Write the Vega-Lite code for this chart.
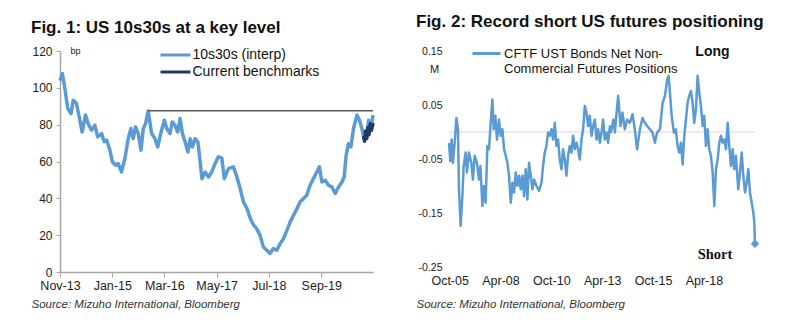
{
  "$schema": "https://vega.github.io/schema/vega-lite/v6.json",
  "padding": {"left": 31, "top": 13, "right": 0, "bottom": 0},
  "background": "white",
  "bounds": "flush",
  "spacing": 76,
  "resolve": {"scale": {"color": "independent"}, "legend": {"color": "independent"}},
  "config": {
    "font": "Liberation Sans",
    "view": {"stroke": null},
    "axis": {"grid": false, "labelOverlap": false, "labelColor": "#222222", "titleColor": "#222222", "labelFont": "Liberation Sans", "titleFont": "Liberation Sans"},
    "legend": {"labelFont": "Liberation Sans"},
    "title": {"font": "Liberation Sans"}
  },
  "datasets": {
    "spread": [
      {"date": "2013-11-01", "bp": 104, "series": "10s30s (interp)"},
      {"date": "2013-11-20", "bp": 107.8, "series": "10s30s (interp)"},
      {"date": "2013-12-11", "bp": 99.6, "series": "10s30s (interp)"},
      {"date": "2014-01-03", "bp": 88.8, "series": "10s30s (interp)"},
      {"date": "2014-01-30", "bp": 86, "series": "10s30s (interp)"},
      {"date": "2014-02-17", "bp": 93.3, "series": "10s30s (interp)"},
      {"date": "2014-03-15", "bp": 91.5, "series": "10s30s (interp)"},
      {"date": "2014-04-12", "bp": 82.4, "series": "10s30s (interp)"},
      {"date": "2014-04-30", "bp": 76, "series": "10s30s (interp)"},
      {"date": "2014-05-28", "bp": 85.2, "series": "10s30s (interp)"},
      {"date": "2014-06-18", "bp": 80.6, "series": "10s30s (interp)"},
      {"date": "2014-07-16", "bp": 77, "series": "10s30s (interp)"},
      {"date": "2014-08-12", "bp": 79.7, "series": "10s30s (interp)"},
      {"date": "2014-09-04", "bp": 73.4, "series": "10s30s (interp)"},
      {"date": "2014-10-06", "bp": 75.2, "series": "10s30s (interp)"},
      {"date": "2014-10-28", "bp": 70.7, "series": "10s30s (interp)"},
      {"date": "2014-11-17", "bp": 71.6, "series": "10s30s (interp)"},
      {"date": "2014-12-13", "bp": 66.1, "series": "10s30s (interp)"},
      {"date": "2015-01-02", "bp": 59.8, "series": "10s30s (interp)"},
      {"date": "2015-01-30", "bp": 58, "series": "10s30s (interp)"},
      {"date": "2015-02-19", "bp": 58.9, "series": "10s30s (interp)"},
      {"date": "2015-03-17", "bp": 54.3, "series": "10s30s (interp)"},
      {"date": "2015-04-14", "bp": 61.6, "series": "10s30s (interp)"},
      {"date": "2015-05-11", "bp": 72.4, "series": "10s30s (interp)"},
      {"date": "2015-06-02", "bp": 77.9, "series": "10s30s (interp)"},
      {"date": "2015-06-21", "bp": 72.4, "series": "10s30s (interp)"},
      {"date": "2015-07-10", "bp": 78.8, "series": "10s30s (interp)"},
      {"date": "2015-08-01", "bp": 75.2, "series": "10s30s (interp)"},
      {"date": "2015-08-23", "bp": 66.1, "series": "10s30s (interp)"},
      {"date": "2015-09-11", "bp": 77.9, "series": "10s30s (interp)"},
      {"date": "2015-09-30", "bp": 80.6, "series": "10s30s (interp)"},
      {"date": "2015-10-21", "bp": 87.5, "series": "10s30s (interp)"},
      {"date": "2015-11-18", "bp": 75.2, "series": "10s30s (interp)"},
      {"date": "2015-12-15", "bp": 72.4, "series": "10s30s (interp)"},
      {"date": "2016-01-07", "bp": 67.9, "series": "10s30s (interp)"},
      {"date": "2016-02-03", "bp": 76, "series": "10s30s (interp)"},
      {"date": "2016-03-01", "bp": 82.4, "series": "10s30s (interp)"},
      {"date": "2016-03-20", "bp": 77.9, "series": "10s30s (interp)"},
      {"date": "2016-04-16", "bp": 75.2, "series": "10s30s (interp)"},
      {"date": "2016-05-04", "bp": 81.5, "series": "10s30s (interp)"},
      {"date": "2016-05-26", "bp": 79.7, "series": "10s30s (interp)"},
      {"date": "2016-06-18", "bp": 76, "series": "10s30s (interp)"},
      {"date": "2016-07-07", "bp": 83.3, "series": "10s30s (interp)"},
      {"date": "2016-07-26", "bp": 75.2, "series": "10s30s (interp)"},
      {"date": "2016-08-17", "bp": 70.7, "series": "10s30s (interp)"},
      {"date": "2016-09-09", "bp": 65.2, "series": "10s30s (interp)"},
      {"date": "2016-09-27", "bp": 72.4, "series": "10s30s (interp)"},
      {"date": "2016-10-16", "bp": 67.9, "series": "10s30s (interp)"},
      {"date": "2016-11-07", "bp": 72.4, "series": "10s30s (interp)"},
      {"date": "2016-11-29", "bp": 70.7, "series": "10s30s (interp)"},
      {"date": "2016-12-18", "bp": 59.8, "series": "10s30s (interp)"},
      {"date": "2017-01-01", "bp": 50.7, "series": "10s30s (interp)"},
      {"date": "2017-01-28", "bp": 54.3, "series": "10s30s (interp)"},
      {"date": "2017-02-24", "bp": 51.6, "series": "10s30s (interp)"},
      {"date": "2017-03-22", "bp": 54.3, "series": "10s30s (interp)"},
      {"date": "2017-04-18", "bp": 58.9, "series": "10s30s (interp)"},
      {"date": "2017-05-15", "bp": 62.5, "series": "10s30s (interp)"},
      {"date": "2017-06-12", "bp": 62, "series": "10s30s (interp)"},
      {"date": "2017-07-03", "bp": 50.7, "series": "10s30s (interp)"},
      {"date": "2017-08-05", "bp": 56.1, "series": "10s30s (interp)"},
      {"date": "2017-09-15", "bp": 57.1, "series": "10s30s (interp)"},
      {"date": "2017-10-13", "bp": 51.6, "series": "10s30s (interp)"},
      {"date": "2017-11-09", "bp": 45.3, "series": "10s30s (interp)"},
      {"date": "2017-12-06", "bp": 38, "series": "10s30s (interp)"},
      {"date": "2018-01-04", "bp": 34.4, "series": "10s30s (interp)"},
      {"date": "2018-01-31", "bp": 29, "series": "10s30s (interp)"},
      {"date": "2018-02-27", "bp": 25.4, "series": "10s30s (interp)"},
      {"date": "2018-03-24", "bp": 23.5, "series": "10s30s (interp)"},
      {"date": "2018-04-20", "bp": 19.9, "series": "10s30s (interp)"},
      {"date": "2018-05-17", "bp": 13.6, "series": "10s30s (interp)"},
      {"date": "2018-06-14", "bp": 11.8, "series": "10s30s (interp)"},
      {"date": "2018-07-10", "bp": 10, "series": "10s30s (interp)"},
      {"date": "2018-08-07", "bp": 12.7, "series": "10s30s (interp)"},
      {"date": "2018-09-04", "bp": 11.8, "series": "10s30s (interp)"},
      {"date": "2018-10-01", "bp": 15.4, "series": "10s30s (interp)"},
      {"date": "2018-10-28", "bp": 18.1, "series": "10s30s (interp)"},
      {"date": "2018-11-25", "bp": 22.6, "series": "10s30s (interp)"},
      {"date": "2018-12-22", "bp": 27.2, "series": "10s30s (interp)"},
      {"date": "2019-01-18", "bp": 30.8, "series": "10s30s (interp)"},
      {"date": "2019-02-15", "bp": 34.4, "series": "10s30s (interp)"},
      {"date": "2019-03-12", "bp": 38, "series": "10s30s (interp)"},
      {"date": "2019-04-08", "bp": 39.8, "series": "10s30s (interp)"},
      {"date": "2019-05-06", "bp": 41.7, "series": "10s30s (interp)"},
      {"date": "2019-06-02", "bp": 47.1, "series": "10s30s (interp)"},
      {"date": "2019-06-29", "bp": 50.7, "series": "10s30s (interp)"},
      {"date": "2019-07-27", "bp": 54.3, "series": "10s30s (interp)"},
      {"date": "2019-08-17", "bp": 57.1, "series": "10s30s (interp)"},
      {"date": "2019-09-06", "bp": 48.9, "series": "10s30s (interp)"},
      {"date": "2019-10-03", "bp": 49.8, "series": "10s30s (interp)"},
      {"date": "2019-10-30", "bp": 47.1, "series": "10s30s (interp)"},
      {"date": "2019-11-27", "bp": 46.2, "series": "10s30s (interp)"},
      {"date": "2019-12-24", "bp": 42.6, "series": "10s30s (interp)"},
      {"date": "2020-01-20", "bp": 46.2, "series": "10s30s (interp)"},
      {"date": "2020-02-17", "bp": 48.9, "series": "10s30s (interp)"},
      {"date": "2020-03-06", "bp": 51.6, "series": "10s30s (interp)"},
      {"date": "2020-03-22", "bp": 63.4, "series": "10s30s (interp)"},
      {"date": "2020-04-10", "bp": 69.7, "series": "10s30s (interp)"},
      {"date": "2020-04-30", "bp": 67.9, "series": "10s30s (interp)"},
      {"date": "2020-05-21", "bp": 77.9, "series": "10s30s (interp)"},
      {"date": "2020-06-18", "bp": 85.2, "series": "10s30s (interp)"},
      {"date": "2020-07-09", "bp": 82.4, "series": "10s30s (interp)"},
      {"date": "2020-07-28", "bp": 77.9, "series": "10s30s (interp)"},
      {"date": "2020-08-17", "bp": 72.4, "series": "10s30s (interp)"},
      {"date": "2020-09-08", "bp": 75.2, "series": "10s30s (interp)"},
      {"date": "2020-09-21", "bp": 82.4, "series": "10s30s (interp)"},
      {"date": "2020-10-11", "bp": 78.8, "series": "10s30s (interp)"},
      {"date": "2020-10-27", "bp": 85.2, "series": "10s30s (interp)"},
      {"date": "2020-08-10", "bp": 74, "series": "Current benchmarks"},
      {"date": "2020-08-19", "bp": 71, "series": "Current benchmarks"},
      {"date": "2020-08-28", "bp": 76.5, "series": "Current benchmarks"},
      {"date": "2020-09-06", "bp": 72.5, "series": "Current benchmarks"},
      {"date": "2020-09-15", "bp": 78.5, "series": "Current benchmarks"},
      {"date": "2020-09-24", "bp": 74.5, "series": "Current benchmarks"},
      {"date": "2020-10-05", "bp": 80.5, "series": "Current benchmarks"},
      {"date": "2020-10-15", "bp": 77, "series": "Current benchmarks"},
      {"date": "2020-10-27", "bp": 81, "series": "Current benchmarks"}
    ],
    "level": [
      {"start": "2015-10-21", "end": "2020-10-27", "bp": 87.5}
    ],
    "cftc": [
      {"date": "2005-09-19", "pos": -0.020},
      {"date": "2005-10-13", "pos": -0.054},
      {"date": "2005-11-06", "pos": -0.014},
      {"date": "2005-11-29", "pos": -0.057},
      {"date": "2005-12-30", "pos": -0.020},
      {"date": "2006-01-30", "pos": 0.026},
      {"date": "2006-02-27", "pos": 0.005},
      {"date": "2006-03-17", "pos": -0.106},
      {"date": "2006-04-16", "pos": -0.174},
      {"date": "2006-05-17", "pos": -0.119},
      {"date": "2006-06-09", "pos": -0.063},
      {"date": "2006-07-15", "pos": -0.038},
      {"date": "2006-08-07", "pos": -0.075},
      {"date": "2006-09-12", "pos": -0.038},
      {"date": "2006-10-25", "pos": -0.057},
      {"date": "2006-11-23", "pos": -0.088},
      {"date": "2006-12-23", "pos": -0.044},
      {"date": "2007-02-03", "pos": -0.057},
      {"date": "2007-03-11", "pos": -0.088},
      {"date": "2007-04-06", "pos": -0.063},
      {"date": "2007-05-11", "pos": -0.137},
      {"date": "2007-06-09", "pos": -0.100},
      {"date": "2007-07-09", "pos": -0.131},
      {"date": "2007-08-09", "pos": -0.026},
      {"date": "2007-09-07", "pos": -0.032},
      {"date": "2007-10-07", "pos": 0.017},
      {"date": "2007-11-07", "pos": 0.060},
      {"date": "2007-11-30", "pos": 0.005},
      {"date": "2007-12-31", "pos": 0.030},
      {"date": "2008-01-29", "pos": -0.014},
      {"date": "2008-03-05", "pos": 0.023},
      {"date": "2008-04-04", "pos": -0.007},
      {"date": "2008-05-05", "pos": 0.005},
      {"date": "2008-06-03", "pos": -0.032},
      {"date": "2008-07-03", "pos": -0.044},
      {"date": "2008-08-03", "pos": -0.057},
      {"date": "2008-09-01", "pos": -0.081},
      {"date": "2008-10-02", "pos": -0.131},
      {"date": "2008-11-01", "pos": -0.094},
      {"date": "2008-11-30", "pos": -0.112},
      {"date": "2008-12-30", "pos": -0.075},
      {"date": "2009-01-30", "pos": -0.100},
      {"date": "2009-02-28", "pos": -0.081},
      {"date": "2009-03-30", "pos": -0.106},
      {"date": "2009-04-29", "pos": -0.081},
      {"date": "2009-05-28", "pos": -0.119},
      {"date": "2009-06-28", "pos": -0.069},
      {"date": "2009-07-28", "pos": -0.125},
      {"date": "2009-08-26", "pos": -0.057},
      {"date": "2009-09-26", "pos": -0.081},
      {"date": "2009-10-26", "pos": -0.106},
      {"date": "2009-11-24", "pos": -0.088},
      {"date": "2010-01-07", "pos": -0.100},
      {"date": "2010-02-22", "pos": -0.109},
      {"date": "2010-04-06", "pos": -0.094},
      {"date": "2010-05-05", "pos": -0.063},
      {"date": "2010-06-04", "pos": -0.038},
      {"date": "2010-07-04", "pos": -0.026},
      {"date": "2010-08-03", "pos": -0.001},
      {"date": "2010-09-02", "pos": -0.007},
      {"date": "2010-10-03", "pos": 0.005},
      {"date": "2010-11-01", "pos": -0.014},
      {"date": "2010-12-01", "pos": 0.017},
      {"date": "2011-01-01", "pos": -0.026},
      {"date": "2011-01-30", "pos": -0.014},
      {"date": "2011-03-01", "pos": -0.051},
      {"date": "2011-04-01", "pos": -0.069},
      {"date": "2011-04-29", "pos": -0.032},
      {"date": "2011-05-30", "pos": -0.051},
      {"date": "2011-06-29", "pos": -0.081},
      {"date": "2011-07-28", "pos": -0.044},
      {"date": "2011-08-27", "pos": -0.026},
      {"date": "2011-09-27", "pos": -0.038},
      {"date": "2011-10-26", "pos": -0.007},
      {"date": "2011-11-25", "pos": -0.032},
      {"date": "2011-12-26", "pos": -0.020},
      {"date": "2012-01-24", "pos": -0.032},
      {"date": "2012-02-23", "pos": -0.051},
      {"date": "2012-03-25", "pos": -0.014},
      {"date": "2012-04-23", "pos": 0.005},
      {"date": "2012-05-23", "pos": 0.048},
      {"date": "2012-06-23", "pos": 0.036},
      {"date": "2012-07-22", "pos": 0.011},
      {"date": "2012-08-21", "pos": 0.030},
      {"date": "2012-09-21", "pos": -0.007},
      {"date": "2012-10-20", "pos": 0.011},
      {"date": "2012-11-19", "pos": 0.023},
      {"date": "2012-12-20", "pos": -0.014},
      {"date": "2013-01-18", "pos": 0.005},
      {"date": "2013-02-17", "pos": -0.020},
      {"date": "2013-03-19", "pos": -0.001},
      {"date": "2013-04-17", "pos": 0.023},
      {"date": "2013-05-18", "pos": -0.014},
      {"date": "2013-06-18", "pos": -0.001},
      {"date": "2013-07-16", "pos": -0.020},
      {"date": "2013-08-16", "pos": 0.010},
      {"date": "2013-09-05", "pos": 0.000},
      {"date": "2013-10-19", "pos": 0.023},
      {"date": "2013-11-13", "pos": -0.001},
      {"date": "2014-01-12", "pos": 0.067},
      {"date": "2014-02-24", "pos": 0.011},
      {"date": "2014-03-31", "pos": 0.036},
      {"date": "2014-05-12", "pos": 0.005},
      {"date": "2014-06-22", "pos": 0.023},
      {"date": "2014-08-10", "pos": 0.017},
      {"date": "2014-09-27", "pos": 0.033},
      {"date": "2014-11-07", "pos": 0.005},
      {"date": "2014-12-18", "pos": -0.032},
      {"date": "2015-02-06", "pos": 0.005},
      {"date": "2015-03-26", "pos": 0.026},
      {"date": "2015-05-06", "pos": 0.017},
      {"date": "2015-06-17", "pos": 0.011},
      {"date": "2015-08-05", "pos": 0.005},
      {"date": "2015-09-22", "pos": -0.001},
      {"date": "2015-11-02", "pos": -0.020},
      {"date": "2015-12-13", "pos": -0.001},
      {"date": "2016-01-31", "pos": 0.005},
      {"date": "2016-03-20", "pos": 0.054},
      {"date": "2016-05-01", "pos": 0.067},
      {"date": "2016-06-11", "pos": 0.097},
      {"date": "2016-07-06", "pos": 0.104},
      {"date": "2016-07-30", "pos": 0.073},
      {"date": "2016-08-29", "pos": 0.030},
      {"date": "2016-10-09", "pos": -0.001},
      {"date": "2016-11-14", "pos": 0.005},
      {"date": "2016-12-14", "pos": -0.026},
      {"date": "2017-01-13", "pos": -0.038},
      {"date": "2017-02-12", "pos": -0.020},
      {"date": "2017-03-15", "pos": -0.060},
      {"date": "2017-04-13", "pos": -0.007},
      {"date": "2017-05-13", "pos": 0.023},
      {"date": "2017-06-12", "pos": 0.054},
      {"date": "2017-07-11", "pos": 0.067},
      {"date": "2017-08-11", "pos": 0.076},
      {"date": "2017-09-10", "pos": 0.054},
      {"date": "2017-10-09", "pos": 0.017},
      {"date": "2017-11-08", "pos": 0.042},
      {"date": "2017-12-09", "pos": 0.104},
      {"date": "2018-01-07", "pos": 0.073},
      {"date": "2018-02-07", "pos": 0.048},
      {"date": "2018-03-09", "pos": 0.011},
      {"date": "2018-04-07", "pos": 0.030},
      {"date": "2018-05-07", "pos": -0.026},
      {"date": "2018-06-07", "pos": 0.005},
      {"date": "2018-07-06", "pos": -0.032},
      {"date": "2018-08-05", "pos": -0.044},
      {"date": "2018-09-05", "pos": -0.075},
      {"date": "2018-10-04", "pos": -0.137},
      {"date": "2018-11-03", "pos": -0.069},
      {"date": "2018-12-03", "pos": -0.051},
      {"date": "2019-01-02", "pos": -0.020},
      {"date": "2019-02-01", "pos": -0.007},
      {"date": "2019-03-04", "pos": -0.020},
      {"date": "2019-04-02", "pos": -0.014},
      {"date": "2019-05-02", "pos": -0.032},
      {"date": "2019-06-02", "pos": 0.017},
      {"date": "2019-06-30", "pos": -0.026},
      {"date": "2019-07-31", "pos": -0.063},
      {"date": "2019-08-30", "pos": -0.032},
      {"date": "2019-09-28", "pos": -0.069},
      {"date": "2019-10-28", "pos": -0.044},
      {"date": "2019-12-08", "pos": -0.106},
      {"date": "2020-01-08", "pos": -0.075},
      {"date": "2020-02-08", "pos": -0.038},
      {"date": "2020-03-08", "pos": -0.081},
      {"date": "2020-04-07", "pos": -0.112},
      {"date": "2020-05-08", "pos": -0.094},
      {"date": "2020-06-06", "pos": -0.069},
      {"date": "2020-07-06", "pos": -0.112},
      {"date": "2020-08-06", "pos": -0.131},
      {"date": "2020-09-04", "pos": -0.149},
      {"date": "2020-09-22", "pos": -0.168},
      {"date": "2020-10-04", "pos": -0.207}
    ],
    "latest": [{"date": "2020-10-04", "pos": -0.207}],
    "zero": [{"pos": 0}]
  },
  "hconcat": [
    {
      "width": 313,
      "height": 221,
      "title": {"text": "Fig. 1: US 10s30s at a key level", "anchor": "start", "dx": -29, "fontSize": 17, "fontWeight": "bold", "color": "#111111", "baseline": "alphabetic", "offset": -5, "frame": "group"},
      "encoding": {
        "x": {"field": "date", "type": "temporal",
          "scale": {"type": "utc", "domain": ["2013-11-01", "2020-10-27"]},
          "axis": {
            "values": [
              {"year": 2013, "month": 11, "date": 1, "utc": true},
              {"year": 2015, "month": 1, "date": 1, "utc": true},
              {"year": 2016, "month": 3, "date": 1, "utc": true},
              {"year": 2017, "month": 5, "date": 1, "utc": true},
              {"year": 2018, "month": 7, "date": 1, "utc": true},
              {"year": 2019, "month": 9, "date": 1, "utc": true}
            ],
            "format": "%b-%y", "labelFontSize": 12.5, "labelPadding": 2, "labelFlush": false, "labelOverlap": false,
            "domainColor": "#a6a6a6", "tickColor": "#a6a6a6", "tickSize": 5, "domainWidth": 1.5,
            "title": "Source: Mizuho International, Bloomberg",
            "titleFontStyle": "italic", "titleFontWeight": "normal", "titleFontSize": 11.5, "titleColor": "#333333",
            "titleAlign": "left", "titleAnchor": "start", "titleX": -29, "titleY": 35, "titleBaseline": "alphabetic"
          }
        },
        "y": {"field": "bp", "type": "quantitative",
          "scale": {"domain": [0, 120], "nice": false},
          "axis": {
            "values": [0, 20, 40, 60, 80, 100, 120],
            "labelFontSize": 12, "labelPadding": 4, "tickSize": 4, "labelOverlap": false, "labelFlush": false,
            "domainColor": "#a6a6a6", "tickColor": "#a6a6a6", "domainWidth": 1.5,
            "title": "bp", "titleAngle": 0, "titleFontSize": 9, "titleFontWeight": "normal",
            "titleX": 15, "titleY": -1, "titleAlign": "center", "titleBaseline": "middle"
          }
        }
      },
      "layer": [
        {
          "data": {"name": "spread"},
          "mark": {"type": "line", "strokeWidth": 3.5, "strokeJoin": "round"},
          "encoding": {
            "color": {"field": "series", "type": "nominal",
              "scale": {"domain": ["10s30s (interp)", "Current benchmarks"], "range": ["#5b9bd5", "#1f3a64"]},
              "legend": {"title": null, "orient": "none", "legendX": 108.5, "legendY": -3,
                "symbolType": "M-3,0H3", "symbolSize": 100, "symbolStrokeWidth": 3, "symbolFillColor": "transparent",
                "labelFontSize": 14, "labelColor": "#111111", "labelOffset": 10, "padding": 0, "rowPadding": 3}
            }
          }
        },
        {
          "data": {"name": "level"},
          "mark": {"type": "rule", "color": "#595959", "strokeWidth": 1.5},
          "encoding": {
            "x": {"field": "start", "type": "temporal"},
            "x2": {"field": "end"}
          }
        }
      ]
    },
    {
      "width": 306,
      "height": 216,
      "title": {"text": "Fig. 2: Record short US futures positioning", "anchor": "start", "dx": -33, "fontSize": 17, "fontWeight": "bold", "color": "#111111", "baseline": "alphabetic", "offset": -6, "frame": "group"},
      "layer": [
        {
          "data": {"name": "zero"},
          "mark": {"type": "rule", "color": "#e3d3d3", "strokeWidth": 1},
          "encoding": {"y": {"field": "pos", "type": "quantitative"}}
        },
        {
          "data": {"name": "cftc"},
          "mark": {"type": "line", "strokeWidth": 2.5, "strokeJoin": "round"},
          "encoding": {
            "x": {"field": "date", "type": "temporal",
              "scale": {"type": "utc", "domain": ["2005-09-19", "2020-10-04"]},
              "axis": {
                "values": [
                  {"year": 2005, "month": 10, "date": 1, "utc": true},
                  {"year": 2008, "month": 4, "date": 1, "utc": true},
                  {"year": 2010, "month": 10, "date": 1, "utc": true},
                  {"year": 2013, "month": 4, "date": 1, "utc": true},
                  {"year": 2015, "month": 10, "date": 1, "utc": true},
                  {"year": 2018, "month": 4, "date": 1, "utc": true}
                ],
                "format": "%b-%y", "labelFontSize": 12.5, "labelPadding": 7, "labelFlush": false, "labelOverlap": false,
                "domain": false, "ticks": false, "tickSize": 0,
                "title": "Source: Mizuho International, Bloomberg",
                "titleFontStyle": "italic", "titleFontWeight": "normal", "titleFontSize": 11.5, "titleColor": "#333333",
                "titleAlign": "left", "titleAnchor": "start", "titleX": -33, "titleY": 40, "titleBaseline": "alphabetic"
              }
            },
            "y": {"field": "pos", "type": "quantitative",
              "scale": {"domain": [-0.25, 0.15], "nice": false},
              "axis": {
                "values": [0.15, 0.05, -0.05, -0.15, -0.25],
                "labelExpr": "datum.value < 0 ? '-' + format(abs(datum.value), '.2f') : format(datum.value, '.2f')",
                "labelFontSize": 10.5, "labelPadding": 7, "domain": false, "ticks": false, "tickSize": 0, "labelOverlap": false, "labelFlush": false,
                "title": "M", "titleAngle": 0, "titleFontSize": 11, "titleFontWeight": "normal",
                "titleX": -15, "titleY": 18, "titleAlign": "center", "titleBaseline": "middle"
              }
            },
            "color": {"datum": "CFTF UST Bonds Net Non-Commercial Futures Positions", "type": "nominal",
              "scale": {"range": ["#5b9bd5"]},
              "legend": {"title": null, "orient": "none", "legendX": 22, "legendY": -13,
                "symbolType": "stroke", "symbolSize": 784, "symbolStrokeWidth": 3,
                "labelExpr": "['CFTF UST Bonds Net Non-', 'Commercial Futures Positions']",
                "labelFontSize": 13, "labelColor": "#111111", "labelOffset": 2, "padding": 0, "labelLimit": 300}
            }
          }
        },
        {
          "data": {"name": "latest"},
          "mark": {"type": "point", "shape": "diamond", "filled": true, "size": 70, "color": "#5b9bd5", "opacity": 1},
          "encoding": {
            "x": {"field": "date", "type": "temporal"},
            "y": {"field": "pos", "type": "quantitative"}
          }
        },
        {
          "data": {"values": [{"date": "2018-09-01", "pos": 0.149, "label": "Long"}]},
          "mark": {"type": "text", "font": "Liberation Sans", "fontWeight": "bold", "fontSize": 14, "color": "#111111", "align": "center", "baseline": "middle"},
          "encoding": {
            "x": {"field": "date", "type": "temporal"},
            "y": {"field": "pos", "type": "quantitative"},
            "text": {"field": "label"}
          }
        },
        {
          "data": {"values": [{"date": "2018-10-16", "pos": -0.228, "label": "Short"}]},
          "mark": {"type": "text", "font": "Liberation Serif", "fontWeight": "bold", "fontSize": 14.5, "color": "#111111", "align": "center", "baseline": "middle"},
          "encoding": {
            "x": {"field": "date", "type": "temporal"},
            "y": {"field": "pos", "type": "quantitative"},
            "text": {"field": "label"}
          }
        }
      ]
    }
  ]
}
